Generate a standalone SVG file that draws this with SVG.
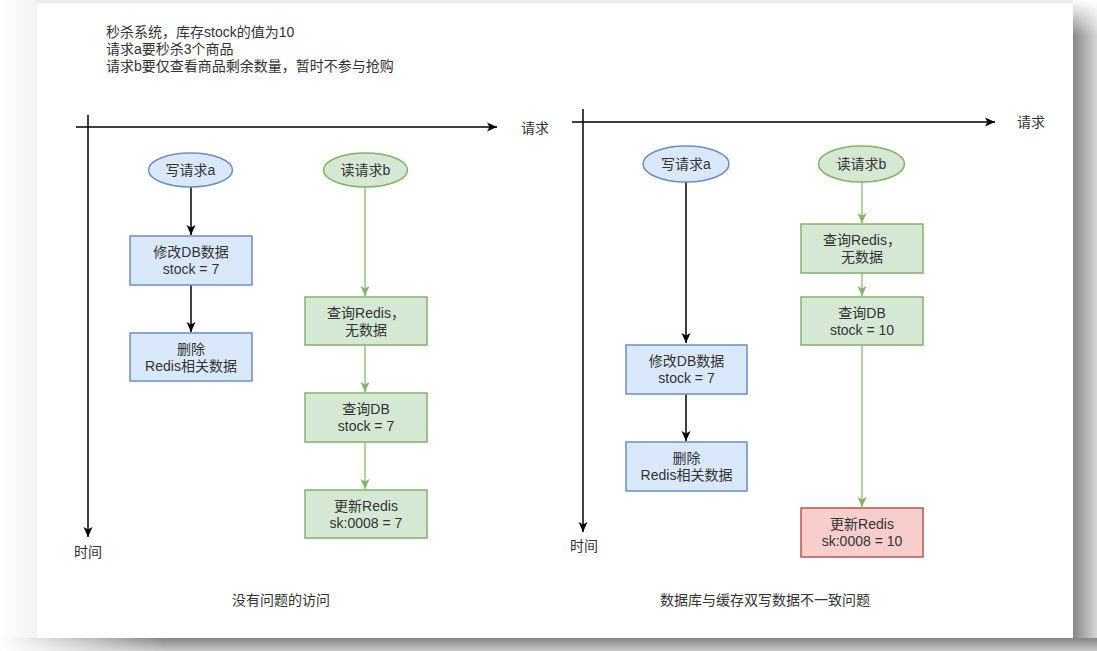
<svg xmlns="http://www.w3.org/2000/svg" width="1097" height="651" viewBox="0 0 1097 651">
<style>
text{font-family:"Liberation Sans","Noto Sans CJK SC",sans-serif;font-size:14px;fill:#333}
.c{text-anchor:middle}
.blue{fill:#dae8fc;stroke:#6c8ebf;stroke-width:1.5}
.green{fill:#d5e8d4;stroke:#82b366;stroke-width:1.5}
.red{fill:#f8cecc;stroke:#b85450;stroke-width:1.5}
.axis{stroke:#000;stroke-width:1.5;fill:none}
.bk{stroke:#000;stroke-width:1.5;fill:none;marker-end:url(#ab)}
.gr{stroke:#97c47e;stroke-width:1.5;fill:none;marker-end:url(#ag)}
</style>
<defs>
<marker id="ab" markerUnits="userSpaceOnUse" markerWidth="12" markerHeight="12" viewBox="0 0 12 12" refX="11" refY="6" orient="auto"><path d="M1,1.5 L11,6 L1,10.5 L3.5,6 z" fill="#000"/></marker>
<marker id="ag" markerUnits="userSpaceOnUse" markerWidth="12" markerHeight="12" viewBox="0 0 12 12" refX="11" refY="6" orient="auto"><path d="M1,1.5 L11,6 L1,10.5 L3.5,6 z" fill="#82b366"/></marker>
<linearGradient id="gR" x1="0" y1="0" x2="1" y2="0"><stop offset="0" stop-color="#868686"/><stop offset="1" stop-color="#d6d6d6"/></linearGradient>
<linearGradient id="gB" x1="0" y1="0" x2="0" y2="1"><stop offset="0" stop-color="#858585"/><stop offset="1" stop-color="#c8c8c8"/></linearGradient>
<linearGradient id="gBf" x1="0" y1="0" x2="1" y2="0"><stop offset="0" stop-color="#fff" stop-opacity="1"/><stop offset="0.15" stop-color="#fff" stop-opacity="0"/></linearGradient>
<linearGradient id="gRf" x1="0" y1="0" x2="0" y2="1"><stop offset="0" stop-color="#fff" stop-opacity="1"/><stop offset="0.12" stop-color="#fff" stop-opacity="0"/></linearGradient>
<linearGradient id="gL" x1="0" y1="0" x2="1" y2="0"><stop offset="0" stop-color="#fff"/><stop offset="1" stop-color="#f2f2f2"/></linearGradient>
</defs>
<g id="background">
<rect x="0" y="0" width="1097" height="651" fill="#fff"/>
<rect x="0" y="0" width="37" height="651" fill="url(#gL)"/>
<rect x="37" y="0" width="1036" height="3" fill="#ececec"/>
<rect x="1073" y="0" width="24" height="651" fill="url(#gR)"/>
<rect x="1073" y="0" width="24" height="300" fill="url(#gRf)"/>
<rect x="0" y="638" width="1097" height="13" fill="url(#gB)"/>
<rect x="0" y="638" width="1097" height="13" fill="url(#gBf)"/>
<rect x="37" y="3" width="1036" height="635" fill="#fff"/>
</g>
<g id="header">
<text x="106" y="37">秒杀系统，库存stock的值为10</text>
<text x="106" y="54">请求a要秒杀3个商品</text>
<text x="106" y="71">请求b要仅查看商品剩余数量，暂时不参与抢购</text>
</g>
<g id="connectors">
<path class="axis" d="M76,127 H497" marker-end="url(#ab)"/>
<path class="axis" d="M88,115 V537" marker-end="url(#ab)"/>
<path class="bk" d="M191,187 V235"/>
<path class="bk" d="M191,285 V332"/>
<path class="gr" d="M365,187 V296"/>
<path class="gr" d="M365,345 V392"/>
<path class="gr" d="M365,442 V489"/>
<path class="axis" d="M572,122 H995" marker-end="url(#ab)"/>
<path class="axis" d="M583,109 V532" marker-end="url(#ab)"/>
<path class="bk" d="M686,182 V343"/>
<path class="bk" d="M686,394 V441"/>
<path class="gr" d="M862,182 V223"/>
<path class="gr" d="M862,273 V296"/>
<path class="gr" d="M862,345 V507"/>
</g>
<g id="left-labels">
<text class="c" x="535" y="133">请求</text>
<text class="c" x="88" y="557">时间</text>
<text class="c" x="281" y="605">没有问题的访问</text>
</g>
<g id="L-write-a"><ellipse class="blue" cx="190.5" cy="170" rx="42" ry="17"/><text class="c" x="190.5" y="175">写请求a</text></g>
<g id="L-modify-db"><rect class="blue" x="130" y="236" width="122" height="49"/><text class="c" x="191" y="257">修改DB数据</text><text class="c" x="191" y="274">stock = 7</text></g>
<g id="L-delete-redis"><rect class="blue" x="130" y="333" width="122" height="48"/><text class="c" x="191" y="354">删除</text><text class="c" x="191" y="371">Redis相关数据</text></g>
<g id="L-read-b"><ellipse class="green" cx="365.5" cy="170" rx="42" ry="17"/><text class="c" x="365.5" y="175">读请求b</text></g>
<g id="L-query-redis"><rect class="green" x="305" y="297" width="122" height="48"/><text class="c" x="366" y="318">查询Redis，</text><text class="c" x="366" y="335">无数据</text></g>
<g id="L-query-db"><rect class="green" x="305" y="393" width="122" height="49"/><text class="c" x="366" y="414">查询DB</text><text class="c" x="366" y="431">stock = 7</text></g>
<g id="L-update-redis"><rect class="green" x="305" y="490" width="122" height="48"/><text class="c" x="366" y="511">更新Redis</text><text class="c" x="366" y="528">sk:0008 = 7</text></g>
<g id="right-labels">
<text class="c" x="1031" y="127">请求</text>
<text class="c" x="584" y="551">时间</text>
<text class="c" x="765" y="605">数据库与缓存双写数据不一致问题</text>
</g>
<g id="R-write-a"><ellipse class="blue" cx="686" cy="164" rx="43" ry="18"/><text class="c" x="686" y="169">写请求a</text></g>
<g id="R-modify-db"><rect class="blue" x="626" y="345" width="121" height="49"/><text class="c" x="686.5" y="366">修改DB数据</text><text class="c" x="686.5" y="383">stock = 7</text></g>
<g id="R-delete-redis"><rect class="blue" x="626" y="442" width="121" height="49"/><text class="c" x="686.5" y="463">删除</text><text class="c" x="686.5" y="480">Redis相关数据</text></g>
<g id="R-read-b"><ellipse class="green" cx="861.5" cy="164" rx="43" ry="18"/><text class="c" x="861.5" y="169">读请求b</text></g>
<g id="R-query-redis"><rect class="green" x="801" y="224" width="122" height="49"/><text class="c" x="862" y="245">查询Redis，</text><text class="c" x="862" y="262">无数据</text></g>
<g id="R-query-db"><rect class="green" x="801" y="297" width="122" height="48"/><text class="c" x="862" y="318">查询DB</text><text class="c" x="862" y="335">stock = 10</text></g>
<g id="R-update-redis"><rect class="red" x="801" y="508" width="122" height="49"/><text class="c" x="862" y="529">更新Redis</text><text class="c" x="862" y="546">sk:0008 = 10</text></g>
</svg>
